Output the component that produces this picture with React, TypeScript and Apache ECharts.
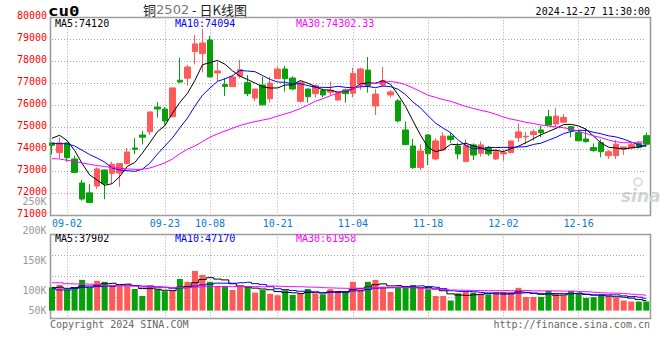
import React, { useEffect, useRef } from 'react';
import * as echarts from 'echarts';

// ---- data ----
const dates = [
  '08-29','08-30',
  '09-02','09-03','09-04','09-05','09-06',
  '09-09','09-10','09-11','09-12','09-13',
  '09-18','09-19','09-20',
  '09-23','09-24','09-25','09-26','09-27',
  '09-30',
  '10-08','10-09','10-10','10-11',
  '10-14','10-15','10-16','10-17','10-18',
  '10-21','10-22','10-23','10-24','10-25',
  '10-28','10-29','10-30','10-31','11-01',
  '11-04','11-05','11-06','11-07','11-08',
  '11-11','11-12','11-13','11-14','11-15',
  '11-18','11-19','11-20','11-21','11-22',
  '11-25','11-26','11-27','11-28','11-29',
  '12-02','12-03','12-04','12-05','12-06',
  '12-09','12-10','12-11','12-12','12-13',
  '12-16','12-17','12-18','12-19','12-20',
  '12-23','12-24','12-25','12-26','12-27'
];
const labelDates = ['09-02','09-23','10-08','10-21','11-04','11-18','12-02','12-16'];

const opens = [
  74290,73850,74290,73560,72470,72020,72330,73060,72910,72920,
  73350,74060,74650,74800,75920,75830,75480,77140,77230,78440,
  78350,78970,77470,76940,76850,77330,77030,76330,76920,76300,
  77210,77650,77240,76180,76740,76530,76670,76590,76240,76700,
  76550,76970,77600,75970,76920,76470,76200,74880,74150,73170,
  74650,73560,73970,74600,74150,73440,74200,73820,74090,73560,
  73790,73850,74530,74560,74670,74880,75480,75150,75230,75030,
  74760,74470,74080,74300,73710,73710,74010,74060,74270,74620
];
const closes = [
  74180,74290,73620,72950,71740,71580,73110,72440,73320,73350,
  73880,74000,74550,75700,75830,75290,76790,77060,77740,78790,
  78830,77290,77560,76860,77290,77620,76530,76740,76020,77010,
  77650,77210,76740,77030,76390,76890,76470,76680,76580,76530,
  77450,77650,76880,76510,77120,76610,75290,74210,73170,73920,
  73800,74380,74600,74450,73790,74170,73740,74200,73790,73890,
  73850,74380,74790,74590,74800,74760,75100,75510,75450,74850,
  74390,74350,73940,73890,73890,74230,74110,74210,74090,74230
];
const lows = [
  73770,73590,73440,72910,71670,71570,72200,71730,72450,72300,
  73330,73790,74230,74650,75440,75110,75470,77000,76890,77860,
  77500,77280,77080,76420,76840,77230,76420,76200,76000,76120,
  77200,76620,76680,76120,76120,76360,76360,76470,76200,76120,
  76360,76700,76580,75560,76850,76350,75230,74200,73110,73060,
  73290,73500,73960,74300,73550,73430,73510,73670,73700,73510,
  73480,73820,74330,74230,74390,74540,75100,75030,75220,74540,
  74350,74300,73890,73640,73560,73560,73740,74040,74040,74220
];
const highs = [
  74300,74545,74300,73710,72610,72420,73180,73080,73440,73370,
  74060,74510,74850,75710,76140,75920,76800,78170,77830,79200,
  79470,79150,77980,77230,77380,78060,77380,76750,77300,77290,
  77760,77790,77320,77110,76770,76950,76760,77080,76600,76760,
  77710,77710,78200,76730,77740,76700,76290,75260,74470,74230,
  74680,74500,74770,74760,74300,74450,74270,74360,74150,74000,
  73970,74390,75180,74790,74910,75060,75790,75860,75600,75060,
  74880,74950,74270,74450,73970,74420,74120,74300,74350,74760
];
const volumes = [
  97000,107000,88000,93000,128000,95000,124000,120000,104000,102000,
  102000,90000,61000,103000,89000,81000,82000,132000,120000,165000,
  149000,120000,103000,103000,86000,102000,102000,75000,86000,70000,
  64000,85000,65000,72000,90000,72000,68000,89000,79000,82000,
  120000,89000,120000,128000,100000,78000,95000,99000,107000,96000,
  89000,61000,61000,42000,72000,81000,75000,70000,68000,75000,
  77000,75000,95000,57000,57000,57000,82000,68000,64000,82000,
  70000,53000,56000,65000,61000,54000,42000,38000,38000,38000
];
// moving-average values before enough history is on screen
const ma5Head = [74500, 74640, 74400, 73950];
const ma10Head = [74260, 74260, 74250, 74150, 73960, 73760, 73600, 73420, 73150];
const ma30Head = [
  73575,73560,73500,73450,73380,73320,73260,73220,73170,73140,
  73110,73090,73090,73150,73260,73380,73560,73800,74000,74150,
  74350,74550,74700,74830,74960,75080,75180,75260,75330
];
const volMa5Head = [96000, 98000, 93000, 96000];
const volMa10Head = [93000, 86000, 86000, 92000, 96000, 97000, 100000, 102000, 101000];
const volMa30Head = [
  116000,116000,112000,111000,111000,110000,108000,106000,104000,103000,
  103000,102000,98000,97000,96000,96000,96000,96000,96000,98000,
  100000,100000,100000,100000,100000,100000,100000,100000,99000
];

const priceLegend = ['MA5:74120', 'MA10:74094', 'MA30:74302.33'];
const volumeLegend = ['MA5:37902', 'MA10:47170', 'MA30:61958'];
const volumeTickLabels = ['250K', '200K', '150K', '100K', '50K'];
const titleParts = ['铜', '2502', ' - 日K线图'];
const symbolText = 'cu0';
const timeText = '2024-12-27 11:30:00';
const copyrightText = 'Copyright 2024 SINA.COM';
const urlText = 'http://finance.sina.com.cn';

const maColors = ['#000000', '#0000ff', '#ff00ff'];
const UP = '#ff5a5a';
const DOWN = '#08a008';
const MONO = "'DejaVu Sans Mono', monospace";

function movingAverage(values: number[], n: number, head: number[]) {
  return values.map((_, i) => {
    if (i < n - 1) return head[i];
    let s = 0;
    for (let k = i - n + 1; k <= i; k++) s += values[k];
    return Math.round((s / n) * 100) / 100;
  });
}

export default function App() {
  const ref = useRef<HTMLDivElement>(null);
  useEffect(() => {
    if (!ref.current) return;
    const chart = echarts.init(ref.current, undefined, { renderer: 'svg' });
    const candleData = dates.map((_, i) => [opens[i], closes[i], lows[i], highs[i]]);
    const volData = volumes.map((v, i) => ({
      value: v,
      itemStyle: { color: closes[i] >= opens[i] ? UP : DOWN },
    }));
    const showDate = (_i: number, v: string) => labelDates.includes(v);
    const dotted = { type: [1, 2] as any, color: '#a8a8a8', width: 1 };
    const pMA = [
      movingAverage(closes, 5, ma5Head),
      movingAverage(closes, 10, ma10Head),
      movingAverage(closes, 30, ma30Head),
    ];
    const vMA = [
      movingAverage(volumes, 5, volMa5Head),
      movingAverage(volumes, 10, volMa10Head),
      movingAverage(volumes, 30, volMa30Head),
    ];
    const legendX = [55, 175, 296];
    const volLabelY = [201, 230, 260.5, 290, 310.5];

    const graphic: any[] = [
      { type: 'rect', silent: true, z: 0, shape: { x: 50.5, y: 17.5, width: 600, height: 198 },
        style: { fill: 'none', stroke: '#999', lineWidth: 1.5 } },
      { type: 'rect', silent: true, z: 0, shape: { x: 50.5, y: 234.5, width: 600, height: 84 },
        style: { fill: 'none', stroke: '#999', lineWidth: 1.5 } },
      { type: 'text', x: 48, y: 11.5, scaleX: 1.25, style: { text: symbolText, font: `bold 14px ${MONO}`, fill: '#000', textVerticalAlign: 'middle' } },
      { type: 'text', x: 195, y: 9.5, style: {
          text: `{a|${titleParts[0]}}{b|${titleParts[1]}}{a|${titleParts[2]}}`,
          textAlign: 'center', textVerticalAlign: 'middle',
          rich: {
            a: { fontSize: 13, fontFamily: "'Noto Sans CJK SC', sans-serif", fill: '#222', color: '#222' },
            b: { fontSize: 13, fontFamily: "'DejaVu Sans', sans-serif", fill: '#777', color: '#777' },
          } } },
      { type: 'text', x: 650, y: 11.5, style: { text: timeText, font: `10px ${MONO}`, fill: '#000', textAlign: 'right', textVerticalAlign: 'middle' } },
      { type: 'text', x: 50, y: 324.5, style: { text: copyrightText, font: `10px ${MONO}`, fill: '#666', textVerticalAlign: 'middle' } },
      { type: 'text', x: 650, y: 324.5, style: { text: urlText, font: `10px ${MONO}`, fill: '#666', textAlign: 'right', textVerticalAlign: 'middle' } },
      { type: 'text', x: 621, y: 196, silent: true, style: { text: 'sina', font: `italic bold 17px 'DejaVu Sans', sans-serif`, fill: '#d4d4d4', textVerticalAlign: 'middle' } },
      { type: 'ring', silent: true, shape: { cx: 638, cy: 182, r: 5, r0: 3 }, style: { fill: '#e0e0e0' } },
    ];
    priceLegend.forEach((t, k) => graphic.push({ type: 'text', x: legendX[k], y: 23.5,
      style: { text: t, font: `10px ${MONO}`, fill: maColors[k], textVerticalAlign: 'middle' } }));
    volumeLegend.forEach((t, k) => graphic.push({ type: 'text', x: legendX[k], y: 238.5,
      style: { text: t, font: `10px ${MONO}`, fill: maColors[k], textVerticalAlign: 'middle' } }));
    volumeTickLabels.forEach((t, k) => graphic.push({ type: 'text', x: 46.5, y: volLabelY[k],
      style: { text: t, font: `10px ${MONO}`, fill: '#999', textAlign: 'right', textVerticalAlign: 'middle', lineHeight: 8 } }));

    chart.setOption({
      animation: false,
      backgroundColor: '#fff',
      grid: [
        { left: 52, right: 13.7, top: 17.3, height: 198, outerBoundsMode: 'none', containLabel: false },
        { left: 52, right: 13.7, top: 234.3, height: 84, outerBoundsMode: 'none', containLabel: false },
      ],
      xAxis: [
        { type: 'category', gridIndex: 0, data: dates, boundaryGap: false,
          axisLine: { show: false }, axisTick: { show: false },
          axisLabel: { interval: showDate, color: '#0a78d0', fontFamily: MONO, fontSize: 10, margin: 3, hideOverlap: false },
          splitLine: { show: true, interval: showDate, lineStyle: dotted } },
        { type: 'category', gridIndex: 1, data: dates, boundaryGap: false,
          axisLine: { show: false }, axisTick: { show: false }, axisLabel: { show: false },
          splitLine: { show: true, interval: showDate, lineStyle: dotted } },
      ],
      yAxis: [
        { type: 'value', gridIndex: 0, min: 71000, max: 80000, interval: 1000,
          axisLine: { show: false }, axisTick: { show: false },
          axisLabel: { color: '#f00', fontFamily: MONO, fontSize: 10, lineHeight: 4, verticalAlign: 'bottom', margin: 5,
            showMinLabel: true, showMaxLabel: true, hideOverlap: false, formatter: (v: number) => String(v) },
          splitLine: { show: true, lineStyle: dotted } },
        { type: 'value', gridIndex: 1, min: -32000, max: 318000, show: false, splitLine: { show: false } },
        { type: 'value', gridIndex: 1, min: 0, max: 4, interval: 1, position: 'left',
          axisLine: { show: false }, axisTick: { show: false }, axisLabel: { show: false },
          splitLine: { show: true, lineStyle: dotted } },
      ],
      series: [
        { type: 'candlestick', xAxisIndex: 0, yAxisIndex: 0, data: candleData, barWidth: 6, silent: true,
          itemStyle: { color: UP, color0: DOWN, borderColor: UP, borderColor0: DOWN, borderWidth: 1 } },
        ...pMA.map((d, k) => ({ type: 'line', xAxisIndex: 0, yAxisIndex: 0, data: d, symbol: 'none', silent: true,
          lineStyle: { color: maColors[k], width: 1 }, z: 3 })),
        { type: 'bar', xAxisIndex: 1, yAxisIndex: 1, data: volData, barWidth: 6, silent: true },
        ...vMA.map((d, k) => ({ type: 'line', xAxisIndex: 1, yAxisIndex: 1, data: d, symbol: 'none', step: 'middle', silent: true,
          lineStyle: { color: maColors[k], width: 1 }, z: 3 })),
      ],
      graphic,
    });
    return () => chart.dispose();
  }, []);
  return <div ref={ref} style={{ position: 'fixed', left: 0, top: 0, width: 660, height: 360 }} />;
}
